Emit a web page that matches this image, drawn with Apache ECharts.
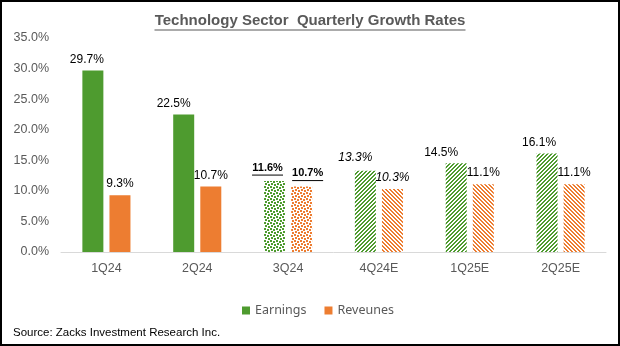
<!DOCTYPE html>
<html>
<head>
<meta charset="utf-8">
<script src="https://cdn.jsdelivr.net/npm/echarts@6/dist/echarts.min.js"></script>
<style>
html,body{margin:0;padding:0;background:#fff;}
#c{width:620px;height:346px;}
</style>
</head>
<body>
<div id="c"></div>
<script>
// ---- data ----
var categories = ['1Q24', '2Q24', '3Q24', '4Q24E', '1Q25E', '2Q25E'];
var earnings = [29.7, 22.5, 11.6, 13.3, 14.5, 16.1];
var revenues = [9.3, 10.7, 10.7, 10.3, 11.1, 11.1];
var yTicks = [0, 5, 10, 15, 20, 25, 30, 35];
var seriesNames = ['Earnings', 'Reveunes'];
var titleText = 'Technology Sector  Quarterly Growth Rates';
var sourceText = 'Source: Zacks Investment Research Inc.';

// ---- styles (kept apart from data) ----
var fillKinds = ['solid', 'solid', 'dots', 'stripe', 'stripe', 'stripe'];
var labelKinds = ['plain', 'plain', 'boldUnderline', 'italic', 'plain', 'plain'];
var greenLabelShift = [[-6, 0], [-10, 0], [-7, 0], [-10, -2], [-15, 0], [-8, 0]];
var orangeLabelShift = [[0, 0], [0, 0], [6, 0], [0, 0], [0, 0], [0, 0]];
var GREEN = '#4e9b2f';
var ORANGE = '#ed7d31';
var FONT = '"Liberation Sans", Arial, sans-serif';

var measureCtx = document.createElement('canvas').getContext('2d');
function textWidth(txt, font) {
  measureCtx.font = font;
  return Math.round(measureCtx.measureText(txt).width);
}

function makePattern(color, kind, dir) {
  var cv = document.createElement('canvas');
  var ctx;
  if (kind === 'stripe') {
    var n = 4;
    cv.width = n; cv.height = n;
    ctx = cv.getContext('2d');
    ctx.fillStyle = '#fff'; ctx.fillRect(0, 0, n, n);
    ctx.fillStyle = color;
    for (var x = 0; x < n; x++) {
      for (var y = 0; y < n; y++) {
        var k = dir > 0 ? (x + y) % n : ((x - y) % n + n) % n;
        if (k < 2) ctx.fillRect(x, y, 1, 1);
      }
    }
  } else {
    var m = 6;
    cv.width = m; cv.height = m;
    ctx = cv.getContext('2d');
    ctx.fillStyle = '#fff'; ctx.fillRect(0, 0, m, m);
    ctx.fillStyle = color;
    [[0, 0], [3, 1], [1, 3], [4, 4]].forEach(function (p) { ctx.fillRect(p[0], p[1], 2, 2); });
  }
  return { image: cv, repeat: 'repeat' };
}

function fmt(v) { return v.toFixed(1) + '%'; }

function labelFor(kind, value, shift) {
  var base = { show: true, position: 'top', distance: 5, color: '#000', fontSize: 12, fontFamily: FONT, offset: shift };
  if (kind === 'boldUnderline') {
    var w = textWidth(fmt(value), 'bold 11px "Liberation Sans", Arial, sans-serif');
    base.formatter = function (p) { return '{b|' + fmt(p.value) + '}\n{u|}'; };
    base.rich = {
      b: { fontSize: 11, fontWeight: 'bold', color: '#000', fontFamily: FONT, lineHeight: 13 },
      u: { width: w, height: 1, lineHeight: 2, backgroundColor: '#000' }
    };
  } else {
    base.formatter = function (p) { return fmt(p.value); };
    if (kind === 'italic') base.fontStyle = 'italic';
  }
  return base;
}

function buildData(values, color, dir, shifts) {
  return values.map(function (v, i) {
    var kind = fillKinds[i];
    var item = { value: v, label: labelFor(labelKinds[i], v, shifts[i]) };
    if (kind !== 'solid') item.itemStyle = { color: makePattern(color, kind, dir) };
    return item;
  });
}

var titleW = textWidth(titleText, 'bold 15px "Liberation Sans", Arial, sans-serif');

var chart = echarts.init(document.getElementById('c'), null, { renderer: 'canvas' });
chart.setOption({
  animation: false,
  backgroundColor: '#fff',
  title: {
    left: 'center',
    top: 12,
    padding: 0,
    text: '{t|' + titleText + '}\n{u|}',
    textStyle: {
      rich: {
        t: { fontSize: 15, fontWeight: 'bold', color: '#595959', fontFamily: FONT, lineHeight: 17 },
        u: { width: titleW, height: 1, lineHeight: 2, backgroundColor: '#595959' }
      }
    }
  },
  legend: {
    data: seriesNames,
    top: 304,
    left: 242,
    icon: 'rect',
    itemWidth: 8,
    itemHeight: 8,
    itemGap: 18,
    padding: 0,
    textStyle: { color: '#595959', fontSize: 12.5, fontFamily: '"Noto Sans", "Open Sans", sans-serif' }
  },
  grid: { left: 61, right: 14, top: 38, bottom: 94, containLabel: false },
  xAxis: {
    type: 'category',
    data: categories,
    axisTick: { show: false },
    axisLine: { lineStyle: { color: '#d9d9d9', width: 1 } },
    axisLabel: { color: '#595959', fontSize: 12.5, fontFamily: FONT, margin: 10 }
  },
  yAxis: {
    type: 'value',
    min: yTicks[0],
    max: yTicks[yTicks.length - 1],
    interval: yTicks[1] - yTicks[0],
    splitLine: { show: false },
    axisLine: { show: false },
    axisTick: { show: false },
    axisLabel: {
      color: '#595959', fontSize: 12.5, fontFamily: FONT, margin: 12,
      formatter: function (v) { return fmt(v); }
    }
  },
  series: [
    {
      name: seriesNames[0], type: 'bar', barWidth: 21, barGap: '29%',
      itemStyle: { color: GREEN },
      data: buildData(earnings, GREEN, 1, greenLabelShift)
    },
    {
      name: seriesNames[1], type: 'bar', barWidth: 21,
      itemStyle: { color: ORANGE },
      data: buildData(revenues, ORANGE, -1, orangeLabelShift)
    }
  ],
  graphic: [
    {
      type: 'text', left: 13, top: 327,
      style: { text: sourceText, fill: '#000', fontSize: 11.5, fontFamily: FONT }
    },
    {
      type: 'rect', shape: { x: 1, y: 1, width: 618, height: 344 },
      style: { fill: 'none', stroke: '#000', lineWidth: 2 }, silent: true
    }
  ]
});
</script>
</body>
</html>
